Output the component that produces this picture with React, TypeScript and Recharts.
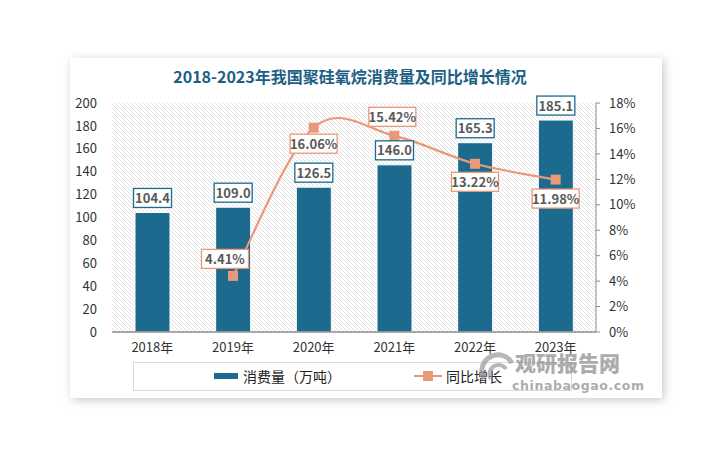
import React from "react";
import {
  Bar,
  CartesianGrid,
  ComposedChart,
  LabelList,
  Line,
  XAxis,
  YAxis,
} from "recharts";

const years = ["2018年", "2019年", "2020年", "2021年", "2022年", "2023年"];
const consumption = [104.4, 109.0, 126.5, 146.0, 165.3, 185.1];
const growth = [null, 4.41, 16.06, 15.42, 13.22, 11.98];
const leftTicks = [0, 20, 40, 60, 80, 100, 120, 140, 160, 180, 200];
const rightTicks = [0, 2, 4, 6, 8, 10, 12, 14, 16, 18];

const data = years.map((year, i) => ({
  year,
  consumption: consumption[i],
  growth: growth[i],
}));

// where each growth label box sits relative to its point
const growthLabelShift: (number[] | null)[] = [null, [-8, -17], [0, 16], [-2, -19], [0, 18], [0, 19]];

const BAR = "#1c6a8e";
const LINE = "#e9997a";
const FONT = "'Noto Sans CJK SC', 'Noto Sans', sans-serif";

// Excel-like smoothed line (Catmull-Rom)
const smoothCurve = (context: any) => {
  let pts: number[][] = [];
  return {
    areaStart() {},
    areaEnd() {},
    lineStart() {
      pts = [];
    },
    point(x: number, y: number) {
      pts.push([+x, +y]);
    },
    lineEnd() {
      if (!pts.length) return;
      context.moveTo(pts[0][0], pts[0][1]);
      for (let i = 0; i < pts.length - 1; i++) {
        const p0 = pts[i - 1] || pts[i];
        const p1 = pts[i];
        const p2 = pts[i + 1];
        const p3 = pts[i + 2] || p2;
        const t = 1 / 6;
        context.bezierCurveTo(
          p1[0] + (p2[0] - p0[0]) * t,
          p1[1] + (p2[1] - p0[1]) * t,
          p2[0] - (p3[0] - p1[0]) * t,
          p2[1] - (p3[1] - p1[1]) * t,
          p2[0],
          p2[1]
        );
      }
    },
  };
};

const BarLabel = (props: any) => {
  const { x, y, width, value } = props;
  if (value == null) return null;
  const cx = x + width / 2;
  const w = 38;
  const h = 19;
  const top = y - 5 - h;
  return (
    <g>
      <rect x={cx - w / 2} y={top} width={w} height={h} fill="#fff" stroke={BAR} strokeWidth={1.3} />
      <text x={cx} y={top + h / 2 + 5} textAnchor="middle" fontSize={13} fontWeight={700} fill="#595959" fontFamily={FONT}>
        {Number(value).toFixed(1)}
      </text>
    </g>
  );
};

const GrowthLabel = (props: any) => {
  const { x, y, value, index } = props;
  const shift = growthLabelShift[index];
  if (value == null || !shift) return null;
  const cx = x + shift[0];
  const cy = y + shift[1];
  const w = 47;
  const h = 19;
  return (
    <g>
      <rect x={cx - w / 2} y={cy - h / 2} width={w} height={h} fill="#fff" stroke={LINE} strokeWidth={1.3} />
      <text x={cx} y={cy + 5} textAnchor="middle" fontSize={13} fontWeight={700} fill="#595959" fontFamily={FONT}>
        {Number(value).toFixed(2)}%
      </text>
    </g>
  );
};

const SquareDot = (props: any) => {
  const { cx, cy, value } = props;
  if (value == null || cx == null || cy == null) return null;
  return <rect x={cx - 5} y={cy - 5} width={10} height={10} fill={LINE} />;
};

const LegendBox = () => (
  <div
    style={{
      position: "absolute",
      left: 133,
      top: 362,
      width: 439,
      height: 29,
      border: "1.5px solid #d9d9d9",
      boxSizing: "border-box",
      fontFamily: FONT,
      fontSize: 14,
      color: "#222",
    }}
  >
    <div style={{ position: "absolute", left: 80, top: 10, width: 24, height: 6, background: BAR }} />
    <div style={{ position: "absolute", left: 109, top: 3, lineHeight: "20px" }}>消费量（万吨）</div>
    <svg style={{ position: "absolute", left: 280, top: 6 }} width={28} height={14}>
      <line x1={0} y1={7} x2={28} y2={7} stroke={LINE} strokeWidth={2} />
      <rect x={9} y={2} width={10} height={10} fill={LINE} />
    </svg>
    <div style={{ position: "absolute", left: 312, top: 3, lineHeight: "20px" }}>同比增长</div>
  </div>
);

export default function App() {
  return (
    <div style={{ position: "absolute", left: 0, top: 0, width: 706, height: 462, background: "#fff", overflow: "hidden" }}>
      <div
        style={{
          position: "absolute",
          left: 70,
          top: 58,
          width: 592,
          height: 340,
          background: "#fff",
          boxShadow: "2px 2px 9px rgba(0,0,0,0.22)",
        }}
      />
      <div
        style={{
          position: "absolute",
          left: 54,
          top: 64,
          width: 592,
          textAlign: "center",
          fontFamily: FONT,
          fontWeight: 700,
          fontSize: 16,
          color: "#1d5f84",
        }}
      >
        2018-2023年我国聚硅氧烷消费量及同比增长情况
      </div>
      <div style={{ position: "absolute", left: 0, top: 0 }}>
        <ComposedChart width={706} height={462} data={data} margin={{ top: 103, right: 50, bottom: 100, left: 0 }}>
          <defs>
            <pattern id="hatch" patternUnits="userSpaceOnUse" width={4} height={4}>
              <path d="M-1,-1 L5,5 M3,-1 L5,1 M-1,3 L1,5" stroke="#e0e0e0" strokeWidth={1} />
            </pattern>
          </defs>
          <CartesianGrid horizontal={false} vertical={false} fill="url(#hatch)" />
          <XAxis
            dataKey="year"
            height={30}
            tickLine={false}
            axisLine={{ stroke: "#8c8c8c", strokeWidth: 1.5 }}
            tickMargin={5}
            interval={0}
            tick={{ fill: "#333", fontSize: 13, fontFamily: FONT }}
          />
          <YAxis
            yAxisId="left"
            width={112}
            domain={[0, 200]}
            ticks={leftTicks}
            interval={0}
            axisLine={false}
            tickLine={false}
            tickMargin={9}
            tick={{ fill: "#333", fontSize: 13, fontFamily: FONT }}
          />
          <YAxis
            yAxisId="right"
            orientation="right"
            width={60}
            domain={[0, 18]}
            ticks={rightTicks}
            interval={0}
            tickFormatter={(v: number) => `${v}%`}
            axisLine={{ stroke: "#8c8c8c" }}
            tickLine={{ stroke: "#8c8c8c" }}
            tickSize={4}
            tickMargin={9}
            tick={{ fill: "#333", fontSize: 13, fontFamily: FONT }}
          />
          <Bar
            yAxisId="left"
            dataKey="consumption"
            fill={BAR}
            stroke="#fff"
            strokeWidth={1}
            barSize={35}
            isAnimationActive={false}
          >
            <LabelList dataKey="consumption" content={BarLabel} />
          </Bar>
          <Line
            yAxisId="right"
            dataKey="growth"
            type={smoothCurve as any}
            stroke={LINE}
            strokeWidth={2.2}
            dot={<SquareDot />}
            activeDot={false}
            isAnimationActive={false}
          >
            <LabelList dataKey="growth" content={GrowthLabel} />
          </Line>
        </ComposedChart>
      </div>
      <LegendBox />
      <div style={{ position: "absolute", left: 478, top: 347, opacity: 0.7, pointerEvents: "none" }}>
        <svg width={40} height={44} style={{ position: "absolute", left: 0, top: 2 }}>
          <path d="M6,30 A16,16 0 1 1 34,14" fill="none" stroke="#9a9a9a" strokeWidth={5} />
          <path d="M13,30 A9,9 0 1 1 28,20" fill="none" stroke="#9a9a9a" strokeWidth={4} />
        </svg>
        <div
          style={{
            position: "absolute",
            left: 37,
            top: 2,
            fontFamily: FONT,
            fontWeight: 900,
            fontSize: 21,
            color: "#8a8a8a",
            whiteSpace: "nowrap",
            lineHeight: "26px",
          }}
        >
          观研报告网
        </div>
        <div
          style={{
            position: "absolute",
            left: 34,
            top: 31,
            fontFamily: "'DejaVu Sans', sans-serif",
            fontWeight: 700,
            fontSize: 12.5,
            color: "#8a8a8a",
            whiteSpace: "nowrap",
            letterSpacing: 0.6,
          }}
        >
          chinabaogao.com
        </div>
      </div>
    </div>
  );
}
